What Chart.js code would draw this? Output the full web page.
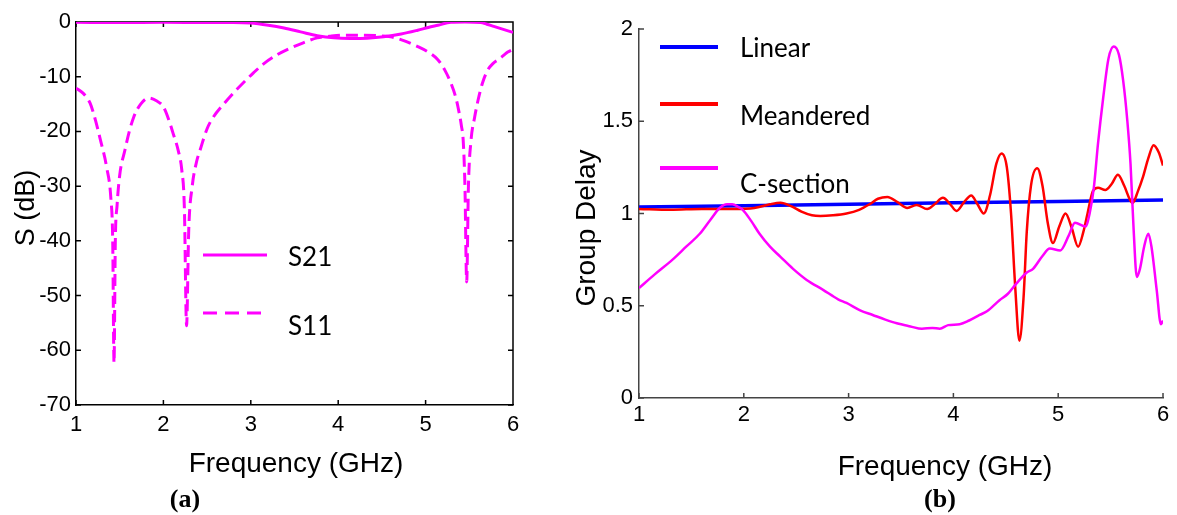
<!DOCTYPE html>
<html><head><meta charset="utf-8">
<script src="https://cdn.jsdelivr.net/npm/chart.js@4.4.1/dist/chart.umd.min.js"></script>
<style>
html,body{margin:0;padding:0;background:#fff;width:1177px;height:515px;overflow:hidden}
canvas{position:absolute;top:0}
</style></head><body>
<canvas id="ca" width="560" height="515" style="left:0;width:560px;height:515px"></canvas>
<canvas id="cb" width="617" height="515" style="left:560px;width:617px;height:515px"></canvas>
<script>
// ---------- Panel (a): S-parameters ----------
const freqS21 = [1.0,1.5,2.0,2.5,2.8,3.0,3.2,3.38,3.57,3.76,3.95,4.14,4.33,4.52,4.72,4.91,5.03,5.14,5.29,5.45,5.63,5.70,5.78,5.88,5.98,6.0];
const s21     = [-0.05,-0.1,-0.05,-0.1,-0.1,-0.2,-0.6,-1.1,-1.8,-2.5,-2.9,-3.0,-2.95,-2.7,-2.2,-1.5,-1.0,-0.6,-0.05,0,-0.1,-0.4,-0.8,-1.3,-1.8,-1.9];
const freqS11 = [1.00,1.08,1.16,1.22,1.28,1.35,1.40,1.42,1.435,1.45,1.47,1.50,1.56,1.61,1.66,1.74,1.83,1.92,2.00,2.06,2.11,2.17,2.21,2.24,2.265,2.29,2.33,2.38,2.42,2.50,2.57,2.70,2.80,2.92,3.03,3.15,3.30,3.45,3.60,3.76,3.90,4.06,4.29,4.45,4.60,4.75,4.91,5.03,5.14,5.22,5.29,5.34,5.37,5.41,5.43,5.45,5.47,5.49,5.52,5.56,5.60,5.65,5.71,5.77,5.83,5.90,5.94,6.00];
const s11     = [-12.1,-13.0,-14.8,-17.8,-21.6,-26.5,-32.5,-40,-62.3,-40,-33.5,-28,-23.4,-20,-17.4,-15,-13.9,-14.4,-15.5,-17.8,-20.3,-23.5,-27,-34,-55.5,-38,-30,-25.5,-23.4,-19.5,-17.4,-14.8,-13.0,-11.0,-9.3,-7.6,-6.0,-4.8,-3.8,-2.9,-2.6,-2.4,-2.4,-2.5,-2.7,-3.4,-4.5,-5.5,-6.9,-8.8,-11.2,-13.5,-15.5,-19,-21.6,-30,-47.5,-30,-21.6,-17.5,-14.3,-11.2,-8.8,-7.6,-6.9,-6.0,-5.5,-5.0];
const xTicksA = [1,2,3,4,5,6];
const yTicksA = [0,-10,-20,-30,-40,-50,-60,-70];

// ---------- Panel (b): Group delay ----------
const freqLinear = [1,2,3,4,5,6];
const linear     = [1.035,1.042,1.05,1.058,1.065,1.073];
const freqMeander = [1.00,1.30,1.60,1.90,2.10,2.25,2.35,2.45,2.55,2.65,2.73,2.85,2.98,3.10,3.20,3.28,3.37,3.47,3.56,3.65,3.75,3.82,3.90,3.97,4.03,4.10,4.17,4.23,4.29,4.35,4.41,4.46,4.51,4.55,4.59,4.63,4.67,4.70,4.74,4.80,4.85,4.90,4.95,5.01,5.07,5.13,5.19,5.24,5.28,5.33,5.38,5.45,5.51,5.57,5.63,5.68,5.71,5.76,5.81,5.86,5.91,5.96,6.00];
const meander     = [1.025,1.02,1.025,1.025,1.03,1.05,1.058,1.04,1.01,0.99,0.986,0.99,1.0,1.02,1.05,1.08,1.09,1.06,1.03,1.046,1.024,1.05,1.085,1.05,1.014,1.06,1.098,1.05,1.0,1.1,1.27,1.325,1.25,1.0,0.6,0.31,0.55,0.9,1.15,1.245,1.15,0.95,0.84,0.93,1.0,0.92,0.82,0.9,1.0,1.12,1.14,1.127,1.16,1.21,1.15,1.08,1.057,1.12,1.2,1.3,1.37,1.33,1.26];
const freqCsec = [1.00,1.15,1.32,1.45,1.58,1.68,1.77,1.84,1.89,1.95,1.99,2.07,2.15,2.25,2.35,2.47,2.60,2.76,2.90,2.98,3.11,3.23,3.35,3.46,3.59,3.70,3.80,3.87,3.95,4.06,4.15,4.25,4.32,4.44,4.52,4.60,4.70,4.76,4.85,4.92,5.02,5.10,5.16,5.26,5.30,5.34,5.38,5.43,5.48,5.53,5.58,5.62,5.66,5.69,5.72,5.75,5.78,5.82,5.86,5.89,5.94,5.98,6.00];
const csec     = [0.596,0.67,0.75,0.82,0.89,0.965,1.03,1.05,1.05,1.035,1.02,0.96,0.89,0.82,0.765,0.70,0.64,0.585,0.535,0.515,0.475,0.45,0.425,0.405,0.388,0.375,0.38,0.375,0.395,0.40,0.42,0.45,0.47,0.53,0.565,0.62,0.68,0.70,0.77,0.81,0.80,0.88,0.95,0.93,1.0,1.14,1.38,1.63,1.84,1.905,1.86,1.72,1.5,1.27,0.91,0.656,0.70,0.82,0.89,0.82,0.585,0.40,0.42];
const xTicksB = [1,2,3,4,5,6];
const yTicksB = [0,0.5,1,1.5,2];

const MAG = '#ff00ff', RED = '#ff0000', BLUE = '#0000ff';
const pts = (xs, ys) => xs.map((x, i) => ({x, y: ys[i]}));

function innerTicks(id, o) {
  return { id, beforeDatasetsDraw(chart) {
    const {ctx, chartArea: a, scales: {x, y}} = chart;
    ctx.save(); ctx.strokeStyle = o.color; ctx.lineWidth = o.width; ctx.beginPath();
    x.ticks.forEach(t => { const p = x.getPixelForValue(t.value);
      ctx.moveTo(p, a.bottom); ctx.lineTo(p, a.bottom - o.len);
      if (o.box) { ctx.moveTo(p, a.top); ctx.lineTo(p, a.top + o.len); } });
    y.ticks.forEach(t => { const p = y.getPixelForValue(t.value);
      ctx.moveTo(a.left, p); ctx.lineTo(a.left + o.len, p);
      if (o.box) { ctx.moveTo(a.right, p); ctx.lineTo(a.right - o.len, p); } });
    if (o.box) { ctx.moveTo(a.left, a.top); ctx.lineTo(a.right, a.top); ctx.lineTo(a.right, a.bottom); }
    ctx.stroke(); ctx.restore();
  }};
}

function decor(id, texts, legend) {
  return { id, afterDraw(chart) {
    const ctx = chart.ctx; ctx.save();
    legend.forEach(l => { ctx.beginPath(); ctx.strokeStyle = l.color; ctx.lineWidth = l.width;
      ctx.setLineDash(l.dash || []); ctx.moveTo(l.x1, l.y); ctx.lineTo(l.x2, l.y); ctx.stroke(); });
    ctx.setLineDash([]);
    texts.forEach(t => { ctx.save(); ctx.translate(t.x, t.y); if (t.rot) ctx.rotate(t.rot);
      ctx.font = t.font; ctx.fillStyle = '#000'; ctx.textAlign = t.align || 'center';
      ctx.textBaseline = t.base || 'alphabetic'; ctx.fillText(t.text, 0, 0); ctx.restore(); });
    ctx.restore();
  }};
}

function scaleOpts(min, max, tickArr, fontSize, pad, color, fixed, key) {
  return {
    type: 'linear', min, max,
    afterBuildTicks: s => { s.ticks = tickArr.map(v => ({value: v})); },
    afterFit: s => { s[key] = fixed; },
    ticks: { autoSkip: false, maxRotation: 0, padding: pad, color: '#000',
      font: { family: 'Liberation Sans, Arial, sans-serif', size: fontSize },
      callback: v => String(v) },
    grid: { display: false, drawTicks: false },
    border: { display: true, color, width: 1.5 }
  };
}

Chart.defaults.font.family = 'Liberation Sans, Arial, sans-serif';

new Chart(document.getElementById('ca'), {
  type: 'line',
  data: { datasets: [
    { label: 'S21', data: pts(freqS21, s21), borderColor: MAG, borderWidth: 3, pointRadius: 0, cubicInterpolationMode: 'monotone', fill: false },
    { label: 'S11', data: pts(freqS11, s11), borderColor: MAG, borderWidth: 3, borderDash: [12, 6], pointRadius: 0, cubicInterpolationMode: 'monotone', fill: false }
  ]},
  options: {
    responsive: false, animation: false, devicePixelRatio: 1,
    layout: { padding: { top: 22, right: 47, left: 0, bottom: 0 } },
    scales: {
      x: scaleOpts(1, 6, xTicksA, 22, 7, '#000', 110, 'height'),
      y: scaleOpts(-70, 0, yTicksA, 22, 5, '#000', 76, 'width')
    },
    plugins: { legend: { display: false }, tooltip: { enabled: false } }
  },
  plugins: [
    innerTicks('ticksA', { color: '#000', width: 1.5, len: 5, box: true }),
    decor('decorA', [
      { text: 'S (dB)', x: 27, y: 208, rot: -Math.PI / 2, font: '27px "Liberation Sans"', base: 'middle' },
      { text: 'Frequency (GHz)', x: 296, y: 472, font: '28px "Liberation Sans"' },
      { text: '(a)', x: 185, y: 507, font: 'bold 26px "Liberation Serif"' },
      { text: 'S21', x: 288, y: 266, font: '26px Lato', align: 'left' },
      { text: 'S11', x: 288, y: 335, font: '26px Lato', align: 'left' }
    ], [
      { x1: 203, x2: 267, y: 255, color: MAG, width: 3 },
      { x1: 203, x2: 267, y: 313, color: MAG, width: 3, dash: [14, 8] }
    ])
  ]
});

new Chart(document.getElementById('cb'), {
  type: 'line',
  data: { datasets: [
    { label: 'C-section', data: pts(freqCsec, csec), borderColor: MAG, borderWidth: 2.5, pointRadius: 0, cubicInterpolationMode: 'monotone', fill: false },
    { label: 'Meandered', data: pts(freqMeander, meander), borderColor: RED, borderWidth: 2.5, pointRadius: 0, cubicInterpolationMode: 'monotone', fill: false },
    { label: 'Linear', data: pts(freqLinear, linear), borderColor: BLUE, borderWidth: 3.5, pointRadius: 0, fill: false }
  ]},
  options: {
    responsive: false, animation: false, devicePixelRatio: 1,
    layout: { padding: { top: 29, right: 14, left: 0, bottom: 0 } },
    scales: {
      x: scaleOpts(1, 6, xTicksB, 22, 4, '#444', 117, 'height'),
      y: scaleOpts(0, 2, yTicksB, 22, 6, '#444', 79, 'width')
    },
    plugins: { legend: { display: false }, tooltip: { enabled: false } }
  },
  plugins: [
    innerTicks('ticksB', { color: '#444', width: 1.5, len: 5, box: false }),
    decor('decorB', [
      { text: 'Group Delay', x: 27, y: 228, rot: -Math.PI / 2, font: '28px "Liberation Sans"', base: 'middle' },
      { text: 'Frequency (GHz)', x: 385, y: 475, font: '28px "Liberation Sans"' },
      { text: '(b)', x: 380, y: 507, font: 'bold 26px "Liberation Serif"' },
      { text: 'Linear', x: 180, y: 57, font: '26px Lato', align: 'left' },
      { text: 'Meandered', x: 180, y: 125, font: '26px Lato', align: 'left' },
      { text: 'C-section', x: 180, y: 193, font: '26px Lato', align: 'left' }
    ], [
      { x1: 100, x2: 158, y: 47, color: BLUE, width: 4 },
      { x1: 100, x2: 158, y: 104, color: RED, width: 4 },
      { x1: 100, x2: 158, y: 168, color: MAG, width: 4 }
    ])
  ]
});
</script>
</body></html>
